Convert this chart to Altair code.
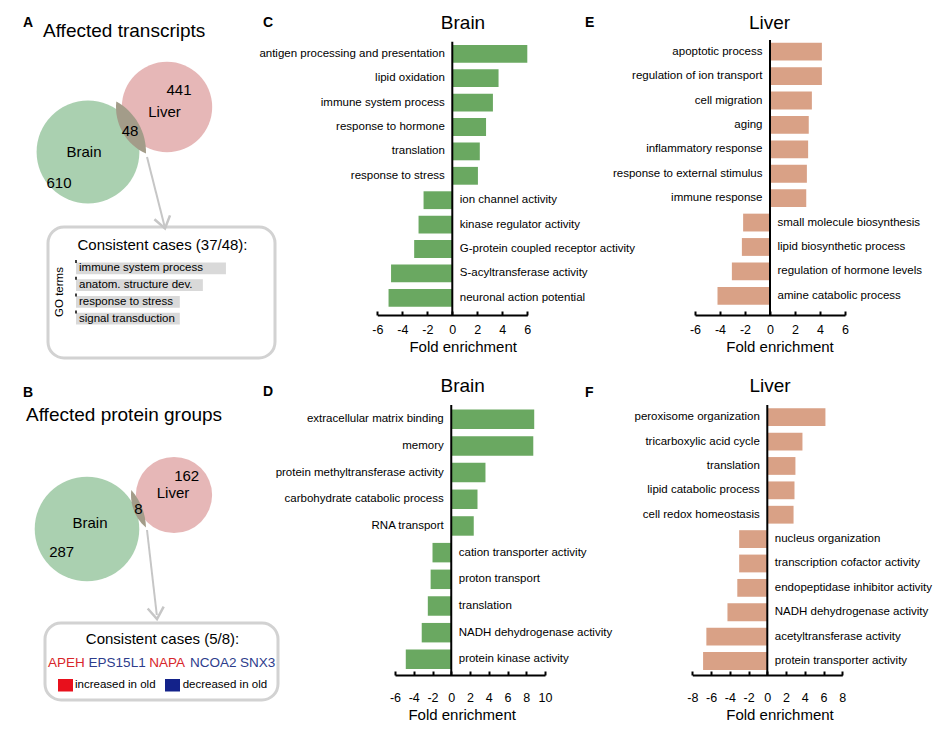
import math
import altair as alt
import pandas as pd

FONT = "Liberation Sans"
W, H = 929, 721

# ---------------- data ----------------
venn_a_counts = [610, 48, 441]          # brain only, both, liver only
venn_b_counts = [287, 8, 162]
go_terms = ["immune system process", "anatom. structure dev.", "response to stress", "signal transduction"]
go_counts = [13, 11, 9, 9]
genes = ["APEH", "EPS15L1", "NAPA", "NCOA2", "SNX3"]
gene_change = ["increased", "decreased", "increased", "decreased", "decreased"]

c_terms = ["antigen processing and presentation", "lipid oxidation", "immune system process",
           "response to hormone", "translation", "response to stress", "ion channel activity",
           "kinase regulator activity", "G-protein coupled receptor activity",
           "S-acyltransferase activity", "neuronal action potential"]
c_values = [6.0, 3.7, 3.25, 2.7, 2.2, 2.05, -2.3, -2.7, -3.05, -4.9, -5.1]

e_terms = ["apoptotic process", "regulation of ion transport", "cell migration", "aging",
           "inflammatory response", "response to external stimulus", "immune response",
           "small molecule biosynthesis", "lipid biosynthetic process",
           "regulation of hormone levels", "amine catabolic process"]
e_values = [4.15, 4.15, 3.35, 3.1, 3.05, 2.95, 2.9, -2.15, -2.25, -3.05, -4.2]

d_terms = ["extracellular matrix binding", "memory", "protein methyltransferase activity",
           "carbohydrate catabolic process", "RNA transport", "cation transporter activity",
           "proton transport", "translation", "NADH dehydrogenase activity", "protein kinase activity"]
d_values = [8.85, 8.75, 3.65, 2.8, 2.4, -2.0, -2.2, -2.5, -3.15, -4.85]

f_terms = ["peroxisome organization", "tricarboxylic acid cycle", "translation",
           "lipid catabolic process", "cell redox homeostasis", "nucleus organization",
           "transcription cofactor activity", "endopeptidase inhibitor activity",
           "NADH dehydrogenase activity", "acetyltransferase activity", "protein transporter activity"]
f_values = [6.2, 3.75, 3.0, 2.9, 2.8, -3.0, -3.0, -3.2, -4.25, -6.5, -6.85]

ticks_6 = [-6, -4, -2, 0, 2, 4, 6]
ticks_d = [-6, -4, -2, 0, 2, 4, 6, 8, 10]
ticks_f = [-8, -6, -4, -2, 0, 2, 4, 6, 8]
go_ticks = [0, 3, 6, 9, 12, 15]

# ---------------- styles ----------------
GREEN = "#6aa861"
SALMON = "#d9a186"
VENN_GREEN = "#aad0b0"
VENN_PINK = "#e6b7b7"
VENN_BOTH = "#a39c89"
GRAY_BOX = "#d2d2d2"
ARROW = "#c6c6c6"
RED_T, BLUE_T = "#d8262c", "#2d3c8c"
RED_SQ, BLUE_SQ = "#e8101c", "#13228a"

ONE = pd.DataFrame({"k": [0]})


def txt(s, x, y, size, align="center", weight="normal", color="black", angle=None, baseline="alphabetic"):
    kw = dict(text=str(s), fontSize=size, align=align, fontWeight=weight, color=color,
              font=FONT, baseline=baseline)
    if angle is not None:
        kw["angle"] = angle
    return alt.Chart(ONE).mark_text(**kw).encode(x=alt.value(x), y=alt.value(y))


def axis_layers(xdom, xrange, ticks, axis_y, label_pad, label_size, title, title_size,
                title_x, title_y, tick_size=4, tick_width=2):
    sc = lambda: alt.Scale(domain=xdom, range=xrange, nice=False, zero=False)
    df = pd.DataFrame({"v": ticks})
    labels = alt.Chart(df).mark_point(opacity=0).encode(
        x=alt.X("v:Q", scale=sc(), axis=alt.Axis(
            orient="bottom", offset=axis_y - H, values=ticks, domain=False, ticks=False,
            tickSize=0, grid=False, labelPadding=label_pad, labelFontSize=label_size,
            labelFont=FONT, labelColor="black", labelExpr="datum.value + ''",
            labelFlush=False, labelOverlap=False, title=title,
            titleFontSize=title_size, titleFont=FONT, titleFontWeight="normal",
            titleColor="black", titleX=title_x, titleY=title_y, titleAlign="center",
            titleBaseline="alphabetic")))
    tick_layer = alt.Chart(df).mark_point(opacity=0).encode(
        x=alt.X("v:Q", scale=sc(), axis=alt.Axis(
            orient="top", offset=-axis_y, values=ticks, labels=False, title=None,
            grid=False, domain=True, domainColor="black", domainWidth=2, ticks=True,
            tickColor="black", tickWidth=tick_width, tickSize=tick_size)))
    return [labels, tick_layer]


def bar_panel(terms, values, color, xdom, ticks, xrange, yrange, axis_y, zero_top,
              label_pad, title_x, title_y):
    df = pd.DataFrame({"term": terms, "value": values})
    xsc = alt.Scale(domain=xdom, range=xrange, nice=False, zero=False)
    ysc = alt.Scale(domain=terms, range=yrange, paddingInner=0.27, paddingOuter=0.135)
    yenc = alt.Y("term:N", scale=ysc, sort=terms, axis=None)
    base = alt.Chart(df)
    bars = base.mark_bar(color=color).encode(
        x=alt.X("value:Q", scale=xsc, stack=None, axis=None), y=yenc)
    pos = base.transform_filter("datum.value > 0").mark_text(
        align="right", dx=-7.5, baseline="middle", fontSize=11.5, font=FONT, color="black"
    ).encode(x=alt.XDatum(0, axis=None), y=yenc, text="term:N")
    neg = base.transform_filter("datum.value < 0").mark_text(
        align="left", dx=7.5, baseline="middle", fontSize=11.5, font=FONT, color="black"
    ).encode(x=alt.XDatum(0, axis=None), y=yenc, text="term:N")
    zero = alt.Chart(ONE).mark_rule(color="black", strokeWidth=2).encode(
        x=alt.XDatum(0, axis=None), y=alt.value(zero_top), y2=alt.value(axis_y))
    panel = alt.layer(bars, pos, neg, zero)
    return [panel] + axis_layers(xdom, xrange, ticks, axis_y, label_pad, 12.5,
                                 "Fold enrichment", 15, title_x, title_y)


def circle(c, r, color):
    return alt.Chart(ONE).mark_circle(color=color, opacity=1).encode(
        x=alt.value(c[0]), y=alt.value(c[1]), size=alt.value(math.pi * r * r))


def lens(c1, r1, c2, r2, color):
    """Overlap region of two circles, as a symbol path in pixel units (size 4 -> scale 1)."""
    dx, dy = c2[0] - c1[0], c2[1] - c1[1]
    d = math.hypot(dx, dy)
    a = (d * d + r1 * r1 - r2 * r2) / (2 * d)
    h = math.sqrt(max(r1 * r1 - a * a, 0))
    ux, uy = dx / d, dy / d
    px, py = c1[0] + a * ux, c1[1] + a * uy
    nx, ny = -uy, ux
    i1 = (h * nx, h * ny)
    i2 = (-h * nx, -h * ny)
    rc1 = (c1[0] - px, c1[1] - py)
    rc2 = (c2[0] - px, c2[1] - py)

    def cross(p, q, c):
        ax, ay = p[0] - c[0], p[1] - c[1]
        bx, by = q[0] - c[0], q[1] - c[1]
        return ax * by - ay * bx

    s1 = 1 if cross(i1, i2, rc1) > 0 else 0
    s2 = 1 if cross(i2, i1, rc2) > 0 else 0
    path = (f"M {i1[0]:.3f} {i1[1]:.3f} A {r1} {r1} 0 0 {s1} {i2[0]:.3f} {i2[1]:.3f} "
            f"A {r2} {r2} 0 0 {s2} {i1[0]:.3f} {i1[1]:.3f} Z")
    return alt.Chart(ONE).mark_point(shape=path, filled=True, color=color, opacity=1,
                                     strokeWidth=0).encode(
        x=alt.value(px), y=alt.value(py), size=alt.value(4))


def venn(c_brain, r_brain, c_liver, r_liver):
    return [circle(c_liver, r_liver, VENN_PINK), circle(c_brain, r_brain, VENN_GREEN),
            lens(c_brain, r_brain, c_liver, r_liver, VENN_BOTH)]


def arrow(x1, y1, x2, y2, tipx, tipy, angle):
    line = alt.Chart(ONE).mark_rule(color=ARROW, strokeWidth=2).encode(
        x=alt.value(x1), y=alt.value(y1), x2=alt.value(x2), y2=alt.value(y2))
    head = alt.Chart(ONE).mark_point(
        shape="M -0.7 -1 L 0 0 L 0.7 -1", filled=False, color=ARROW, strokeWidth=2.5,
        opacity=1, angle=angle, strokeJoin="miter"
    ).encode(x=alt.value(tipx), y=alt.value(tipy), size=alt.value(529))
    return [line, head]


def box(x1, y1, x2, y2):
    return alt.Chart(ONE).mark_rect(fill="white", stroke=GRAY_BOX, strokeWidth=3,
                                    cornerRadius=16).encode(
        x=alt.value(x1), x2=alt.value(x2), y=alt.value(y1), y2=alt.value(y2))


layers = []

# ---------- Panel A ----------
layers += [box(40, 219, 267, 350)]
layers += venn((80, 144), 58, (159, 99), 51)
layers += arrow(139, 149, 156.5, 218, 157, 220.5, 346)
layers += [
    txt("A", 15, 19, 14, align="left", weight="bold"),
    txt("Affected transcripts", 35, 29, 19, align="left"),
    txt(venn_a_counts[2], 171, 87, 15),
    txt("Liver", 156.5, 109, 15),
    txt(venn_a_counts[1], 122, 128, 15),
    txt("Brain", 76, 149, 15),
    txt(venn_a_counts[0], 51, 180, 15),
    txt("Consistent cases (37/48):", 154.5, 242, 15),
    txt("GO terms", 52, 284, 11.5, angle=270, baseline="middle"),
]

# GO small bar chart
go_df = pd.DataFrame({"term": go_terms, "count": go_counts})
go_xsc = alt.Scale(domain=[0, 15], range=[68, 241], nice=False, zero=False)
go_ysc = alt.Scale(domain=go_terms, range=[252, 319], paddingInner=0.3, paddingOuter=0.15)
go_y = alt.Y("term:N", scale=go_ysc, sort=go_terms, axis=None)
go_bars = alt.Chart(go_df).mark_bar(color="#d9d9d9").encode(
    x=alt.X("count:Q", scale=go_xsc, stack=None, axis=None), y=go_y)
go_text = alt.Chart(go_df).mark_text(align="left", dx=3, baseline="middle", fontSize=11.5,
                                     font=FONT, color="black").encode(
    x=alt.XDatum(0, axis=None), y=go_y, text="term:N")
go_dash = alt.Chart(ONE).mark_rule(color="black", strokeWidth=1.5, strokeDash=[3, 13.8]).encode(
    x=alt.XDatum(0, axis=None), y=alt.value(252), y2=alt.value(319))
layers.append(alt.layer(go_bars, go_text, go_dash))
layers += axis_layers([0, 15], [68, 241], go_ticks, 319, 6, 11, "# of transcripts", 11.5,
                      153.3, 28, tick_size=3, tick_width=1.5)

# ---------- Panel B ----------
layers += [box(37, 615, 270, 692)]
layers += venn((79, 521), 59, (166, 487), 43)
layers += arrow(139, 522, 148.8, 607, 149, 611, 353.5)
layers += [
    txt("B", 15, 389, 14, align="left", weight="bold"),
    txt("Affected protein groups", 18, 413, 19, align="left"),
    txt(venn_b_counts[2], 178.7, 473, 15),
    txt("Liver", 165, 490, 15),
    txt(venn_b_counts[1], 130.5, 506, 15),
    txt("Brain", 82, 520, 15),
    txt(venn_b_counts[0], 53.7, 549, 15),
    txt("Consistent cases (5/8):", 154.5, 636, 15),
]
gene_x = [40, 80.6, 141.3, 181.9, 232.1]  # layout: left edge of each name
gene_df = pd.DataFrame({"gene": genes, "change": gene_change, "px": gene_x})
layers.append(alt.Chart(gene_df).mark_text(align="left", fontSize=13.5, font=FONT,
                                           baseline="alphabetic").encode(
    x=alt.X("px:Q", scale=None, axis=None), y=alt.value(659), text="gene:N",
    color=alt.Color("change:N", scale=alt.Scale(domain=["increased", "decreased"],
                                                range=[RED_T, BLUE_T]), legend=None)))
layers += [
    alt.Chart(ONE).mark_rect(color=RED_SQ).encode(x=alt.value(50), x2=alt.value(65),
                                                  y=alt.value(671), y2=alt.value(683.5)),
    alt.Chart(ONE).mark_rect(color=BLUE_SQ).encode(x=alt.value(157), x2=alt.value(172),
                                                   y=alt.value(671), y2=alt.value(683.5)),
    txt("increased in old", 67, 680.3, 11.5, align="left"),
    txt("decreased in old", 174.7, 680.3, 11.5, align="left"),
]

# ---------- Panels C-F ----------
layers += bar_panel(c_terms, c_values, GREEN, [-6, 6], ticks_6, [369.3, 519.3], [33.6, 302],
                    307, 33.7, 8, 454.7, 36.7)
layers += bar_panel(e_terms, e_values, SALMON, [-6, 6], ticks_6, [687, 837], [31.5, 300],
                    307, 32, 8, 771.5, 36.7)
layers += bar_panel(d_terms, d_values, GREEN, [-6, 10], ticks_d, [387, 537], [397.9, 664.7],
                    667, 397, 16, 453.7, 44.3)
layers += bar_panel(f_terms, f_values, SALMON, [-8, 8], ticks_f, [684.3, 834.3], [397, 665.2],
                    667, 397, 16, 771.5, 44.3)
layers += [
    txt("C", 255, 19, 14, align="left", weight="bold"),
    txt("Brain", 455, 21, 19),
    txt("E", 577, 19, 14, align="left", weight="bold"),
    txt("Liver", 761.5, 21, 19),
    txt("D", 255, 388, 14, align="left", weight="bold"),
    txt("Brain", 454.7, 383.7, 19),
    txt("F", 577, 389, 14, align="left", weight="bold"),
    txt("Liver", 762, 384, 19),
]

chart = alt.layer(*layers).resolve_scale(
    x="independent", y="independent", color="independent"
).resolve_axis(x="independent", y="independent").properties(
    width=W, height=H, autosize=alt.AutoSizeParams(type="none"), padding=0, background="white"
).configure_view(stroke=None).configure_axis(labelFont=FONT, titleFont=FONT)

chart.save("out.html", embed_options={"renderer": "svg", "actions": False})
